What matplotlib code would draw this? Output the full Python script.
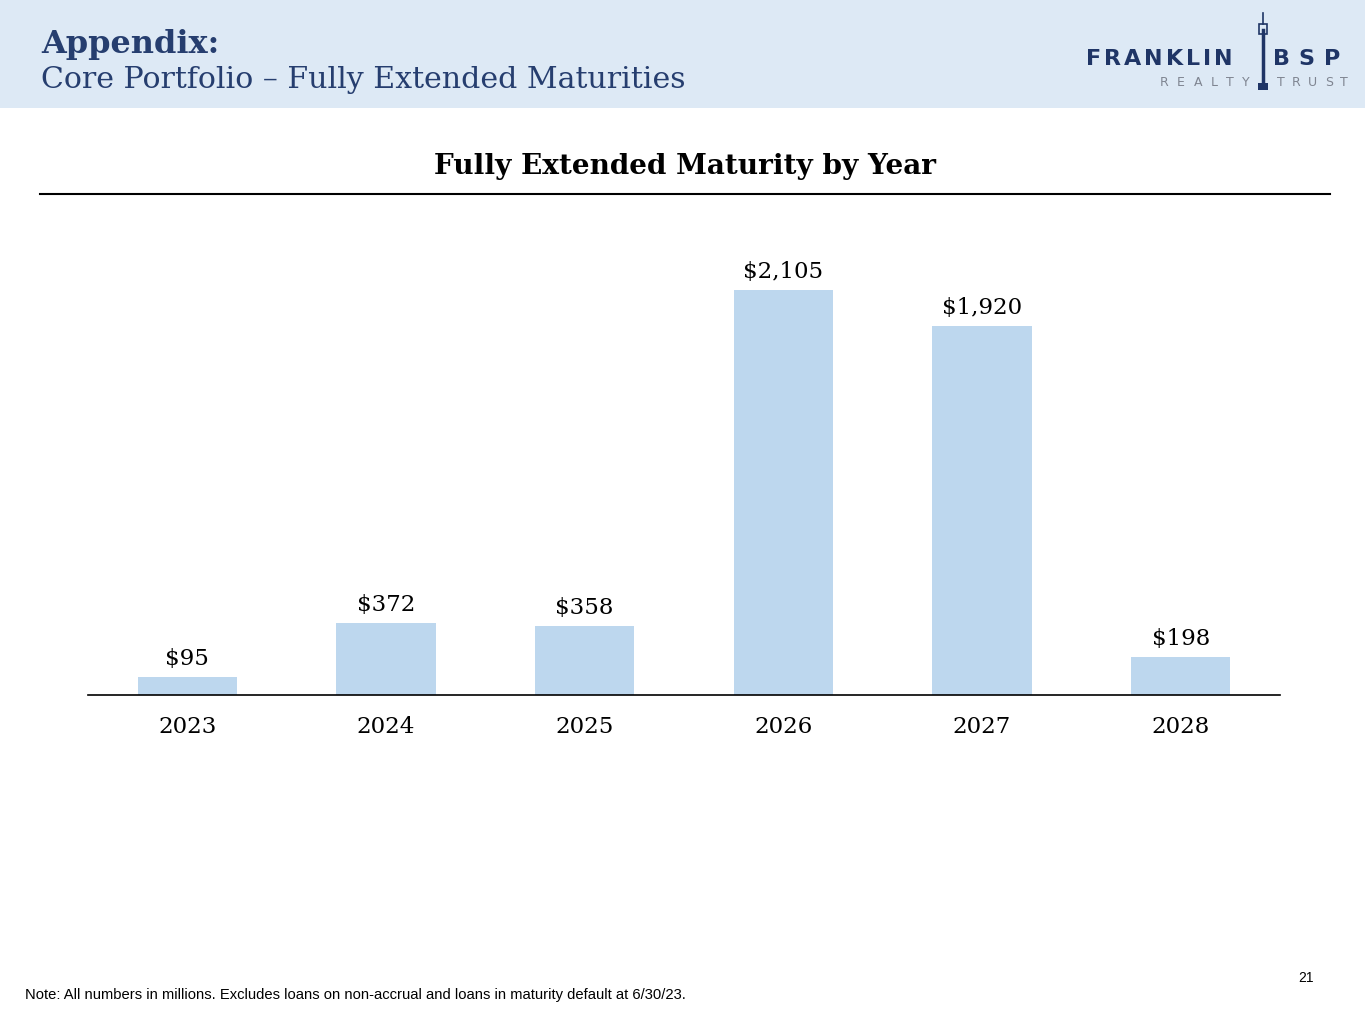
import matplotlib
matplotlib.use("Agg")
import matplotlib.pyplot as plt
from matplotlib.patches import Rectangle
from matplotlib.lines import Line2D

years = ["2023", "2024", "2025", "2026", "2027", "2028"]
values = [95, 372, 358, 2105, 1920, 198]
labels = ["$95", "$372", "$358", "$2,105", "$1,920", "$198"]

W, H = 1365, 1024
fig = plt.figure(figsize=(W / 100, H / 100), dpi=100)
fig.patch.set_facecolor("white")
renderer = fig.canvas.get_renderer()

navy = "#263E6F"
logo_navy = "#1F3566"
serif = ["DejaVu Serif"]
sans = ["DejaVu Sans"]

def fx(x):
    return x / W

def fy(y):
    return 1 - y / H

# header band
fig.patches.append(Rectangle((0, fy(108)), 1, 108 / H, transform=fig.transFigure,
                             facecolor="#DDE9F5", edgecolor="none", zorder=0))
fig.text(fx(41), fy(44), "Appendix:", fontsize=23, fontweight="bold", color=navy,
         family=serif, va="center", ha="left")
fig.text(fx(41), fy(80), "Core Portfolio \u2013 Fully Extended Maturities", fontsize=21.6,
         color=navy, family=serif, va="center", ha="left")

# logo: letters with tracking so the word spans x0..x1
def tracked(text, x0, x1, y, **kw):
    widths = []
    for ch in text:
        t = fig.text(0, 0, ch, **kw)
        widths.append(t.get_window_extent(renderer).width)
        t.remove()
    total = sum(widths)
    gap = (x1 - x0 - total) / (len(text) - 1)
    xpos = x0
    for ch, w in zip(text, widths):
        fig.text(fx(xpos), fy(y), ch, ha="left", va="center", **kw)
        xpos += w + gap

tracked("FRANKLIN", 1086, 1233, 59, fontsize=16, fontweight="bold", color=logo_navy, family=sans)
tracked("BSP", 1273, 1340, 59, fontsize=16, fontweight="bold", color=logo_navy, family=sans)
tracked("REALTY", 1160, 1250, 82, fontsize=9, color="#7F8591", family=sans)
tracked("TRUST", 1277, 1348, 82, fontsize=9, color="#7F8591", family=sans)
fig.lines.append(Line2D([fx(1263), fx(1263)], [fy(30), fy(86)], transform=fig.transFigure,
                        color=logo_navy, lw=2.5))
fig.patches.append(Rectangle((fx(1259), fy(34)), 8 / W, 10 / H, transform=fig.transFigure,
                             facecolor="none", edgecolor=logo_navy, lw=1.2))
fig.lines.append(Line2D([fx(1263), fx(1263)], [fy(13), fy(24)], transform=fig.transFigure,
                        color=logo_navy, lw=1.2))
fig.patches.append(Rectangle((fx(1258), fy(90)), 10 / W, 7 / H, transform=fig.transFigure,
                             facecolor=logo_navy, edgecolor="none"))

# chart title and rule
fig.text(fx(685), fy(166), "Fully Extended Maturity by Year", fontsize=20.1, fontweight="bold",
         color="black", family=serif, va="center", ha="center")
fig.lines.append(Line2D([fx(40), fx(1330)], [fy(194), fy(194)], transform=fig.transFigure,
                        color="black", lw=1.5))

# axes
ax_top, ax_bot, ax_l, ax_r = 200, 695, 88, 1280
ax = fig.add_axes([fx(ax_l), fy(ax_bot), (ax_r - ax_l) / W, (ax_bot - ax_top) / H])
ax.set_facecolor("none")
x = list(range(len(years)))
ax.bar(x, values, width=0.5, color="#BDD7EE", edgecolor="none")
ax.set_xlim(-0.5, 5.5)
ax.set_ylim(0, 2573)
for xi, v, lab in zip(x, values, labels):
    ax.annotate(lab, (xi, v), xytext=(0, 5), textcoords="offset points", ha="center",
                va="bottom", fontsize=16.5, family=serif, color="black")
for s in ["top", "right", "left"]:
    ax.spines[s].set_visible(False)
ax.spines["bottom"].set_linewidth(1.2)
ax.set_yticks([])
ax.set_xticks(x)
ax.set_xticklabels(years, fontsize=16.5, family=serif)
ax.tick_params(axis="x", length=0, pad=15)

# footer
fig.text(fx(1306), fy(978), "21", fontsize=10, color="black",
         family=["Liberation Sans", "DejaVu Sans"], va="center", ha="center")
fig.text(fx(25), fy(995), "Note: All numbers in millions. Excludes loans on non-accrual and loans in maturity default at 6/30/23.",
         fontsize=10.6, color="black", family=["Liberation Sans", "DejaVu Sans"],
         va="center", ha="left")

fig.savefig("out.png", dpi=100)
